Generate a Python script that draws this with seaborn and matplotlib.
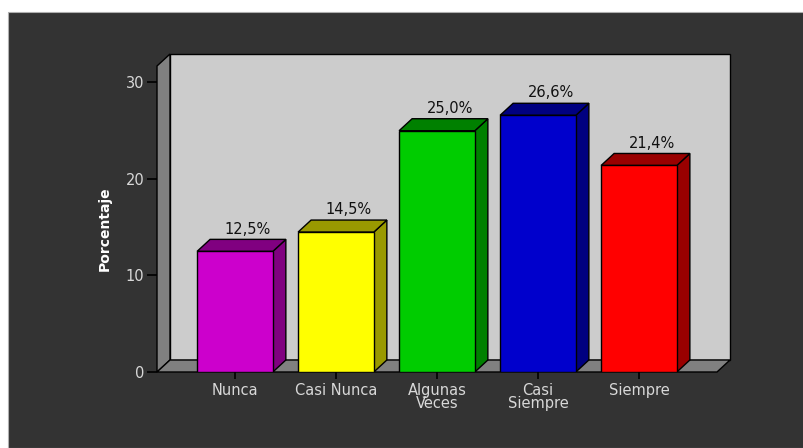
import matplotlib
matplotlib.use("Agg")
import matplotlib.pyplot as plt
from matplotlib.patches import Polygon, Rectangle
import seaborn as sns

# ---- data ----
categories = ["Nunca", "Casi Nunca", "Algunas\nVeces", "Casi\nSiempre", "Siempre"]
values = [12.5, 14.5, 25.0, 26.6, 21.4]
face_colors = ["#cc00cc", "#ffff00", "#00cc00", "#0000cc", "#ff0000"]
shade_colors = ["#800080", "#999900", "#008000", "#000080", "#990000"]
y_ticks = [0, 10, 20, 30]

# ---- figure / dark panel ----
fig = plt.figure(figsize=(8.04, 4.48), dpi=100, facecolor="white")
fig.add_artist(Rectangle((8 / 804, 0), 1, 436 / 448, transform=fig.transFigure,
                         facecolor="#333333", edgecolor="#b0b0b0", lw=0.8, zorder=0))

ax = fig.add_axes([157 / 804, 76 / 448, 573 / 804, 318 / 448])
ax.set_facecolor("none")

# 3d depth offsets (data units)
dx, dy = 0.1287, 1.2435
x0, x1 = -0.772, 4.901
ytop = 32.95

# back wall, left wall, floor
ax.add_patch(Rectangle((x0 + dx, dy), x1 - (x0 + dx), ytop - dy, facecolor="#cccccc",
                       edgecolor="black", lw=1, zorder=0, clip_on=False))
ax.add_patch(Polygon([(x0, 0), (x0 + dx, dy), (x0 + dx, ytop), (x0, ytop - dy)],
                     facecolor="#808080", edgecolor="black", lw=1, zorder=1, clip_on=False))
ax.add_patch(Polygon([(x0, 0), (x1 - dx, 0), (x1, dy), (x0 + dx, dy)],
                     facecolor="#808080", edgecolor="black", lw=1, zorder=1, clip_on=False))

# front faces of the bars
sns.barplot(x=categories, y=values, hue=categories, palette=face_colors, width=0.75,
            saturation=1, edgecolor="black", linewidth=1, legend=False, ax=ax, zorder=3)

# side + top faces and value labels
for i, cont in enumerate(ax.containers):
    for bar in cont:
        xl = bar.get_x()
        xr = xl + bar.get_width()
        h = bar.get_height()
        ax.add_patch(Polygon([(xr, 0), (xr + dx, dy), (xr + dx, h + dy), (xr, h)],
                             facecolor=shade_colors[i], edgecolor="black", lw=1, zorder=2))
        ax.add_patch(Polygon([(xl, h), (xl + dx, h + dy), (xr + dx, h + dy), (xr, h)],
                             facecolor=shade_colors[i], edgecolor="black", lw=1, zorder=2))
        lbl = f"{h:.1f}%".replace(".", ",")
        ax.text((xl + xr) / 2 + dx, h + dy + 0.6, lbl, ha="center", va="baseline",
                fontsize=10.5, color="#111111", zorder=5)

ax.set_xlim(x0, x1)
ax.set_ylim(0, ytop)
ax.set_yticks(y_ticks)
for s in ax.spines.values():
    s.set_visible(False)
ax.set_xlabel("")
ax.set_ylabel("")
ax.tick_params(axis="y", length=7, width=1.2, color="black", labelcolor="#d8d8d8",
               labelsize=10.5, pad=2)
ax.tick_params(axis="x", length=5, width=1.2, color="black", labelcolor="#d8d8d8",
               labelsize=10.5, pad=3)
for t in ax.get_xticklabels():
    t.set_linespacing(0.85)

fig.text(105 / 804, 1 - 229 / 448, "Porcentaje", rotation=90, ha="center", va="center",
         fontsize=10, fontweight="bold", color="white")

fig.savefig("out.png", dpi=100, facecolor=fig.get_facecolor())
